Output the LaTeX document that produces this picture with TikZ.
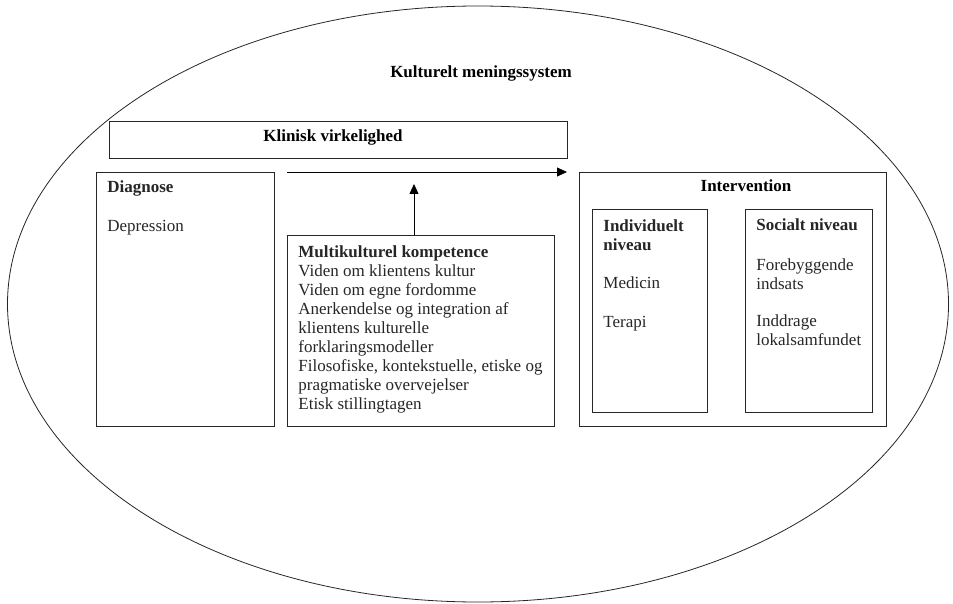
\documentclass[tikz,border=0pt]{standalone}
\usepackage{fontspec}
\setmainfont{Liberation Serif}
\usetikzlibrary{arrows.meta}
\begin{document}
\begin{tikzpicture}[x=1pt,y=-1pt,
  line width=0.8pt,
  font=\fontsize{17}{19}\selectfont,
  box/.style={draw=black!85, inner sep=0pt},
  txt/.style={anchor=base west, inner sep=0pt, text=black!85},
  mtxt/.style={anchor=north west, inner sep=0pt, text=black!85, align=left},
  ttl/.style={anchor=base, inner sep=0pt, font=\fontsize{17}{19}\selectfont\bfseries},
  arr/.style={-{Triangle[length=10pt,width=9pt]}, draw=black}
]
\useasboundingbox (0,0) rectangle (953,604);
% outer ellipse
\draw[draw=black!85] (478,304) ellipse [x radius=470.5, y radius=298];
\node[ttl] (kms) at (481,78) {Kulturelt meningssystem};

% Klinisk virkelighed
\draw[box] (109,121) rectangle (567,158);
\node[ttl] (kv) at (333,142) {Klinisk virkelighed};

% Diagnose
\draw[box] (96,172) rectangle (274,426);
\node[txt, font=\fontsize{17}{19}\selectfont\bfseries] (dia) at (107,193) {Diagnose};
\node[txt] (dep) at (107,232) {Depression};

% arrow across
\coordinate (a1) at (287,172);
\coordinate (a2) at (567,172);
\draw[arr] (a1) -- (a2);

% Multikulturel
\draw[box] (287,235) rectangle (554,426);
\coordinate (mtop) at (414,235);
\coordinate (mtip) at (414,184);
\draw[arr] (mtop) -- (mtip);
\node[mtxt] (mk) at (298,257-13.3) {\strut\textbf{Multikulturel kompetence}\\
Viden om klientens kultur\\
Viden om egne fordomme\\
Anerkendelse og integration af\\
klientens kulturelle\\
forklaringsmodeller\\
Filosofiske, kontekstuelle, etiske og\\
pragmatiske overvejelser\\
Etisk stillingtagen};

% Intervention
\draw[box] (579,172) rectangle (886,426);
\node[ttl] (int) at (746,192) {Intervention};
\draw[box] (592,209) rectangle (707,412);
\draw[box] (745,209) rectangle (872,412);
\node[mtxt, font=\fontsize{17}{19}\selectfont\bfseries] (ind) at (603,231-13.3) {\strut Individuelt\\niveau};
\node[txt] (med) at (603,288) {Medicin};
\node[txt] (ter) at (603,327) {Terapi};
\node[txt, font=\fontsize{17}{19}\selectfont\bfseries] (soc) at (756,231) {Socialt niveau};
\node[mtxt] (fore) at (756,270-13.3) {\strut Forebyggende\\indsats};
\node[mtxt] (indd) at (756,326-13.3) {\strut Inddrage\\lokalsamfundet};
\end{tikzpicture}
\end{document}
